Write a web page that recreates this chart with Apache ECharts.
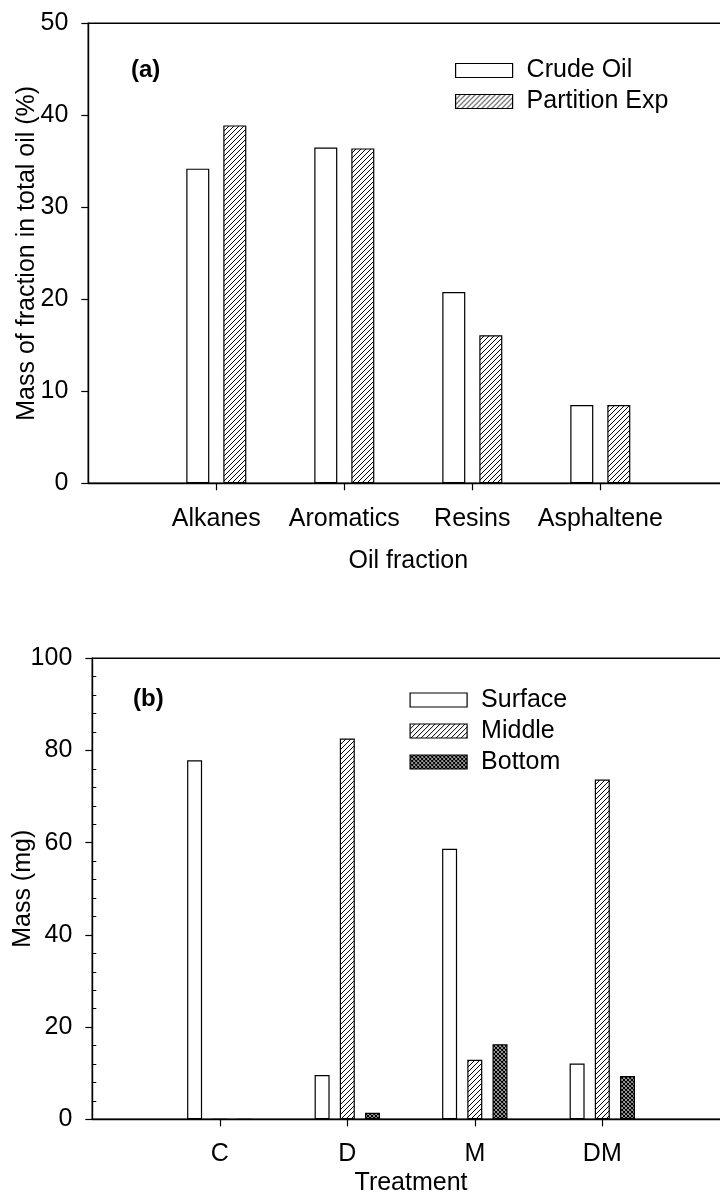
<!DOCTYPE html>
<html>
<head>
<meta charset="utf-8">
<script src="https://cdn.jsdelivr.net/npm/echarts@6/dist/echarts.min.js"></script>
<style>
  html, body { margin: 0; padding: 0; background: #fff; }
  #chart { width: 720px; height: 1194px; }
</style>
</head>
<body>
<div id="chart"></div>
<script>
// Panel (a): composition of the oil by fraction
const fractions = ['Alkanes', 'Aromatics', 'Resins', 'Asphaltene'];
const crudeOil = [34.2, 36.5, 20.8, 8.5];
const partitionExp = [38.9, 36.4, 16.1, 8.5];

// Panel (b): oil mass recovered per layer for each treatment
const treatments = ['C', 'D', 'M', 'DM'];
const surface = [77.9, 9.6, 58.7, 12.1];
const middle = [0, 82.6, 12.9, 73.7];
const bottom = [0, 1.4, 16.3, 9.4];

// Minor tick stops on the mass axis (every 4 mg, majors every 20 mg)
const massMinorStops = [];
for (let v = 0; v <= 100; v += 4) massMinorStops.push(String(v));

const FONT = 'Liberation Sans, Arial, sans-serif';
const FS = 25;

// Hatch fills built as small repeating canvas tiles
function tile(size, draw, lw) {
  const c = document.createElement('canvas');
  c.width = c.height = size;
  const g = c.getContext('2d');
  g.fillStyle = '#fff';
  g.fillRect(0, 0, size, size);
  g.strokeStyle = '#000';
  g.lineWidth = lw;
  g.beginPath();
  draw(g, size);
  g.stroke();
  return c;
}
function forward(g, s) {
  g.moveTo(-1, s + 1); g.lineTo(s + 1, -1);
  g.moveTo(-1, 1); g.lineTo(1, -1);
  g.moveTo(s - 1, s + 1); g.lineTo(s + 1, s - 1);
}
function backward(g, s) {
  g.moveTo(-1, -1); g.lineTo(s + 1, s + 1);
  g.moveTo(s - 1, -1); g.lineTo(s + 1, 1);
  g.moveTo(-1, s - 1); g.lineTo(1, s + 1);
}
const diagFill = { image: tile(5, forward, 1), repeat: 'repeat' };
const crossFill = { image: tile(4, (g, s) => { forward(g, s); backward(g, s); }, 1.3), repeat: 'repeat' };

const pad = arr => [null].concat(arr, [null]);
const edgeTicks = (i) => i > 0 && i < 5;

function xAxisFor(gridIndex, cats, name, nameGap, margin) {
  return {
    type: 'category', gridIndex, data: ['', ...cats, ''], boundaryGap: false,
    name, nameLocation: 'middle', nameGap,
    nameTextStyle: { fontFamily: FONT, fontSize: FS, color: '#000' },
    axisLine: { lineStyle: { color: '#000', width: 1.4 } },
    axisTick: { show: true, interval: edgeTicks, length: 7, lineStyle: { color: '#000', width: 1.2 } },
    axisLabel: { interval: 0, margin, fontFamily: FONT, fontSize: FS, color: '#000' },
    splitLine: { show: false }
  };
}
function yAxisFor(gridIndex, max, interval, name, nameGap) {
  return {
    type: 'value', gridIndex, position: 'left', min: 0, max, interval,
    name, nameLocation: 'middle', nameGap, nameMoveOverlap: false,
    nameTextStyle: { fontFamily: FONT, fontSize: FS, color: '#000' },
    axisLine: { show: true, lineStyle: { color: '#000', width: 1.4 } },
    axisTick: { show: true, length: 7, lineStyle: { color: '#000', width: 1.2 } },
    axisLabel: { margin: 20, fontFamily: FONT, fontSize: FS, color: '#000' },
    splitLine: { show: false }
  };
}
function barSeries(name, data, fill, xi, width, gap) {
  return {
    type: 'bar', name, data: pad(data), xAxisIndex: xi, yAxisIndex: xi,
    barWidth: width, barGap: gap,
    itemStyle: { color: fill, borderColor: '#000', borderWidth: 1.2 },
    emphasis: { disabled: true },
    animation: false
  };
}
function legendFor(names, left, top) {
  return {
    data: names, orient: 'vertical', left, top, padding: 0,
    itemWidth: 57, itemHeight: 14, itemGap: 6, icon: 'rect',
    itemStyle: { borderColor: '#000', borderWidth: 1.2 },
    textStyle: { fontFamily: FONT, fontSize: FS, color: '#000', padding: [0, 0, 0, 9] },
    selectedMode: false
  };
}
function gridBox(left, top, width, height) {
  return {
    left, top, width, height, outerBoundsMode: 'none', containLabel: false,
    show: true, borderColor: '#000', borderWidth: 1.4, backgroundColor: 'transparent'
  };
}

const chart = echarts.init(document.getElementById('chart'), null, { renderer: 'canvas' });
chart.setOption({
  backgroundColor: '#fff',
  animation: false,
  grid: [
    gridBox(88.3, 23.3, 640, 460),
    gridBox(92.3, 658.3, 637.5, 461)
  ],
  xAxis: [
    xAxisFor(0, fractions, 'Oil fraction', 65, 23),
    xAxisFor(1, treatments, 'Treatment', 51, 22)
  ],
  yAxis: [
    yAxisFor(0, 50, 10, 'Mass of fraction in total oil (%)', 49),
    yAxisFor(1, 100, 20, 'Mass (mg)', 57),
    // inward minor ticks on the mass axis, sharing its left edge
    {
      type: 'category', gridIndex: 1, position: 'left', offset: 0,
      data: massMinorStops, boundaryGap: false,
      axisLine: { show: false },
      axisTick: { show: true, inside: true, length: 4, interval: (i) => i % 5 !== 0, lineStyle: { color: '#000', width: 1 } },
      axisLabel: { show: false },
      splitLine: { show: false }
    }
  ],
  legend: [
    legendFor(['Crude Oil', 'Partition Exp'], 455, 58),
    legendFor(['Surface', 'Middle', 'Bottom'], 409.5, 687.5)
  ],
  graphic: [
    { type: 'text', left: 131, top: 58, style: { text: '(a)', font: 'bold 24px ' + FONT, fill: '#000' } },
    { type: 'text', left: 133, top: 687, style: { text: '(b)', font: 'bold 24px ' + FONT, fill: '#000' } }
  ],
  series: [
    barSeries('Crude Oil', crudeOil, '#fff', 0, 23, '61%'),
    barSeries('Partition Exp', partitionExp, diagFill, 0, 23, '61%'),
    barSeries('Surface', surface, '#fff', 1, 15, '68%'),
    barSeries('Middle', middle, diagFill, 1, 15, '68%'),
    barSeries('Bottom', bottom, crossFill, 1, 15, '68%')
  ]
});
</script>
</body>
</html>
